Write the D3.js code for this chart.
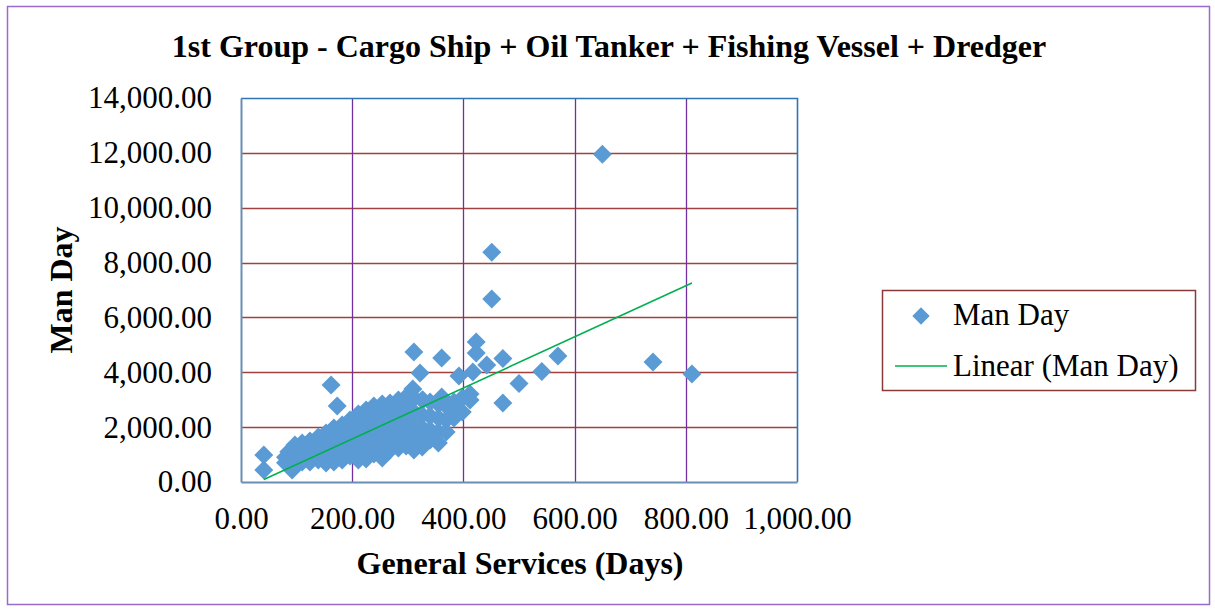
<!DOCTYPE html>
<html>
<head>
<meta charset="utf-8">
<script src="https://cdn.jsdelivr.net/npm/d3@7"></script>
<style>
  html, body { margin: 0; padding: 0; background: #fff; }
  svg text { font-family: "Liberation Serif", "Times New Roman", serif; fill: #000; }
</style>
</head>
<body>
<svg id="chart" width="1215" height="610"></svg>
<script>
// ── Data ─────────────────────────────────────────────────────────
// General Services (Days)
const serviceDays = [
  650, 451, 451, 741, 811, 570, 541, 500, 471, 471, 423, 423, 311, 361, 322, 392, 417, 442, 412, 381,
  361, 309, 304, 327, 162, 173, 41, 41, 92,
  80, 80, 86, 86, 97, 95, 95, 110, 110, 110, 124, 124, 124, 139, 139, 139,
  153, 153, 153, 153, 167, 167, 167, 167, 182, 182, 182, 182, 196, 196, 196, 196,
  211, 211, 211, 211, 211, 225, 225, 225, 225, 225, 239, 239, 239, 239, 239,
  254, 254, 254, 254, 254, 254, 268, 268, 268, 268, 268, 283, 283, 283, 283, 283,
  297, 297, 297, 297, 297, 311, 311, 311, 311, 311, 326, 326, 326, 326, 326,
  340, 340, 340, 340, 355, 355, 355, 355, 369, 369, 369, 383, 383, 398, 398, 412
];
// Man Day
const manDays = [
  11950, 8380, 6670, 4375, 3937, 4594, 4030, 3590, 2880, 4500, 5104, 4703, 4740, 4521, 3974, 3865, 4010, 4266, 3208, 2698,
  3099, 3390, 2917, 2990, 3536, 2771, 984, 437, 437,
  900, 700, 1100, 800, 1350, 984, 620, 1422, 1094, 729, 1495, 1167, 729, 1641, 1240, 802,
  1787, 1349, 984, 693, 1969, 1531, 1094, 729, 2078, 1677, 1240, 802, 2260, 1823, 1385, 948,
  2479, 1969, 1531, 1094, 802, 2625, 2188, 1714, 1276, 839, 2771, 2333, 1896, 1458, 1021,
  2844, 2443, 1969, 1531, 1094, 875, 2880, 2479, 2042, 1604, 1167, 2990, 2552, 2115, 1677, 1240,
  3099, 2625, 2188, 1750, 1313, 3063, 2552, 2078, 1604, 1167, 2990, 2443, 1969, 1531, 1276,
  2917, 2406, 1896, 1531, 2844, 2333, 1823, 1422, 2771, 2260, 1823, 2917, 2333, 3063, 2552, 2990
];
// Linear trendline
const trendSlope = 9.3;
const trendIntercept = -290;

const xTicks = [0, 200, 400, 600, 800, 1000];
const yTicks = [0, 2000, 4000, 6000, 8000, 10000, 12000, 14000];

const titleText = '1st Group - Cargo Ship + Oil Tanker + Fishing Vessel + Dredger';
const xTitle = 'General Services (Days)';
const yTitle = 'Man Day';
const legendLabels = ['Man Day', 'Linear (Man Day)'];

// ── Layout ───────────────────────────────────────────────────────
const plot = { left: 241, right: 797, top: 98, bottom: 482 };
const COLORS = {
  frame: '#9b6bcb',
  plotBorder: '#2e75b6',
  axis: '#6a8db3',
  hGrid: '#a0403f',
  vGrid: '#7030a0',
  marker: '#5b9bd5',
  trend: '#00b050',
  legendBorder: '#8b3a3a'
};

const svg = d3.select('#chart');
const fmt = d3.format(',.2f');

const x = d3.scaleLinear().domain([0, 1000]).range([plot.left, plot.right]);
const y = d3.scaleLinear().domain([0, 14000]).range([plot.bottom, plot.top]);

// outer frame
svg.append('rect')
  .attr('x', 7.5).attr('y', 6.5)
  .attr('width', 1202).attr('height', 598)
  .attr('fill', '#fff')
  .attr('stroke', COLORS.frame)
  .attr('stroke-width', 1.5);

// ── Gridlines ────────────────────────────────────────────────────
svg.append('g').selectAll('line')
  .data(yTicks.filter(t => t > 0 && t < 14000))
  .enter().append('line')
  .attr('x1', plot.left).attr('x2', plot.right)
  .attr('y1', d => Math.round(y(d)) + 0.5).attr('y2', d => Math.round(y(d)) + 0.5)
  .attr('stroke', COLORS.hGrid).attr('stroke-width', 1.3);

svg.append('g').selectAll('line')
  .data(xTicks.filter(t => t > 0 && t < 1000))
  .enter().append('line')
  .attr('x1', d => Math.round(x(d)) + 0.5).attr('x2', d => Math.round(x(d)) + 0.5)
  .attr('y1', plot.top).attr('y2', plot.bottom)
  .attr('stroke', COLORS.vGrid).attr('stroke-width', 1.3);

// plot border (top/right)
svg.append('path')
  .attr('d', `M${plot.left},${plot.top + 0.5}H${plot.right + 0.5}V${plot.bottom}`)
  .attr('fill', 'none')
  .attr('stroke', COLORS.plotBorder)
  .attr('stroke-width', 1.6);

// ── Markers ──────────────────────────────────────────────────────
const points = serviceDays.map((d, i) => ({ x: d, y: manDays[i] }));
const diamond = d3.symbol().type(d3.symbolSquare).size(180);

svg.append('g').selectAll('path')
  .data(points)
  .enter().append('path')
  .attr('d', diamond)
  .attr('transform', d => `translate(${x(d.x)},${y(d.y)}) rotate(45)`)
  .attr('fill', COLORS.marker);

// ── Trendline ────────────────────────────────────────────────────
const xMin = d3.min(serviceDays), xMax = d3.max(serviceDays);
svg.append('line')
  .attr('x1', x(xMin)).attr('y1', y(trendSlope * xMin + trendIntercept))
  .attr('x2', x(xMax)).attr('y2', y(trendSlope * xMax + trendIntercept))
  .attr('stroke', COLORS.trend)
  .attr('stroke-width', 1.6);

// ── Axes ─────────────────────────────────────────────────────────
const yAxis = svg.append('g')
  .attr('transform', `translate(${plot.left},0)`)
  .call(d3.axisLeft(y).tickValues(yTicks).tickFormat(fmt).tickSize(0).tickPadding(29));
const xAxis = svg.append('g')
  .attr('transform', `translate(0,${plot.bottom})`)
  .call(d3.axisBottom(x).tickValues(xTicks).tickFormat(fmt).tickSize(0).tickPadding(25));

[xAxis, yAxis].forEach(g => {
  g.selectAll('.domain').attr('stroke', COLORS.axis).attr('stroke-width', 2);
  g.selectAll('text')
    .attr('font-family', '"Liberation Serif", "Times New Roman", serif')
    .attr('font-size', '31px')
    .attr('fill', '#000');
});

// ── Titles ───────────────────────────────────────────────────────
svg.append('text')
  .attr('x', 609).attr('y', 57)
  .attr('text-anchor', 'middle')
  .attr('font-size', '32px')
  .attr('font-weight', 'bold')
  .text(titleText);

svg.append('text')
  .attr('x', 520).attr('y', 574)
  .attr('text-anchor', 'middle')
  .attr('font-size', '32px')
  .attr('font-weight', 'bold')
  .text(xTitle);

svg.append('text')
  .attr('transform', 'translate(72,290) rotate(-90)')
  .attr('text-anchor', 'middle')
  .attr('font-size', '32px')
  .attr('font-weight', 'bold')
  .text(yTitle);

// ── Legend ───────────────────────────────────────────────────────
const legend = svg.append('g');
legend.append('rect')
  .attr('x', 882.5).attr('y', 290.5)
  .attr('width', 313).attr('height', 100)
  .attr('fill', '#fff')
  .attr('stroke', COLORS.legendBorder)
  .attr('stroke-width', 1.5);

legend.append('path')
  .attr('d', d3.symbol().type(d3.symbolSquare).size(150))
  .attr('transform', 'translate(921,316) rotate(45)')
  .attr('fill', COLORS.marker);
legend.append('line')
  .attr('x1', 895).attr('x2', 947)
  .attr('y1', 366).attr('y2', 366)
  .attr('stroke', COLORS.trend).attr('stroke-width', 1.6);

legend.selectAll('text.lg')
  .data(legendLabels)
  .enter().append('text')
  .attr('class', 'lg')
  .attr('x', 953)
  .attr('y', (d, i) => 325 + i * 51)
  .attr('font-size', '31px')
  .text(d => d);
</script>
</body>
</html>
